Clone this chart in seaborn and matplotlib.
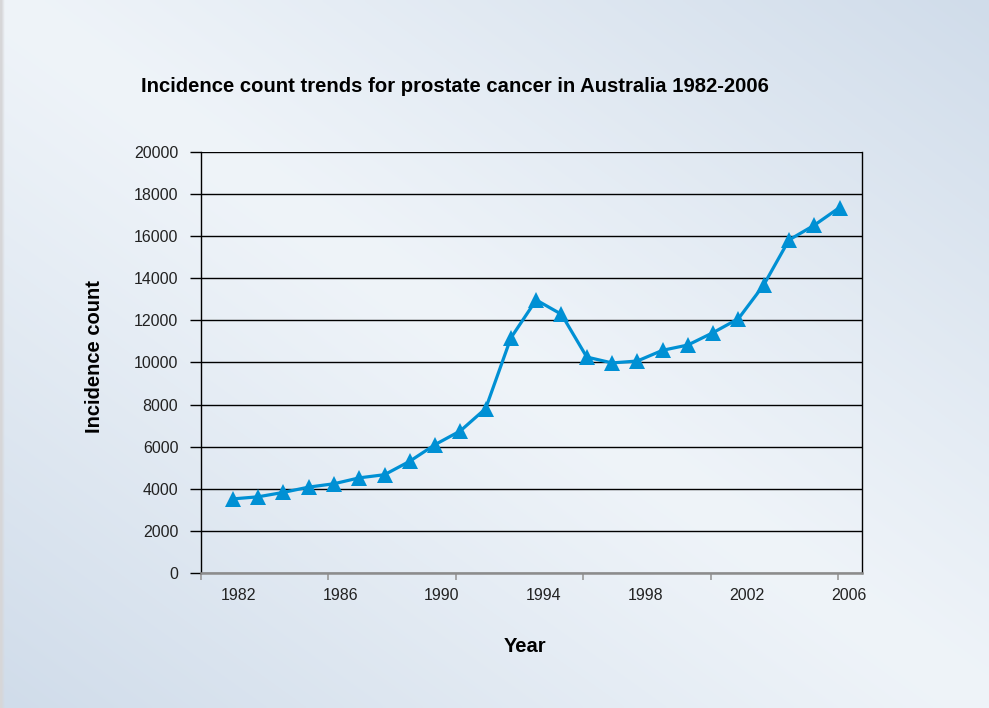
import numpy as np
import pandas as pd
import matplotlib
matplotlib.use("Agg")
import matplotlib.pyplot as plt
import seaborn as sns

years = list(range(1982, 2007))
incidence = [3520, 3620, 3830, 4080, 4240, 4520, 4670, 5310, 6100, 6750,
             7810, 11170, 12970, 12290, 10260, 9980, 10070, 10580, 10830, 11420,
             12080, 13680, 15820, 16520, 17360]
label_years = [1982, 1986, 1990, 1994, 1998, 2002, 2006]
y_ticks = list(range(0, 20001, 2000))

title = "Incidence count trends for prostate cancer in Australia 1982-2006"
x_title = "Year"
y_title = "Incidence count"

df = pd.DataFrame({"Year": years, "Incidence": incidence})

sns.set_theme(style="white")
plt.rcParams["font.family"] = ["Liberation Sans", "DejaVu Sans"]

W, H = 989, 708
fig = plt.figure(figsize=(W / 100, H / 100), dpi=100)

# background gradient
bg = fig.add_axes([0, 0, 1, 1], zorder=-10)
gx, gy = np.meshgrid(np.linspace(0, 1, 300), np.linspace(0, 1, 220))
d = np.abs(gx - gy)
light = np.array([0xEF, 0xF4, 0xF9]) / 255
blue = np.array([0xD0, 0xDC, 0xEA]) / 255
img = light[None, None, :] + d[..., None] ** 1.1 * (blue - light)[None, None, :]
img[:, :1, :] = np.array([0.84, 0.84, 0.85])
bg.imshow(img, aspect="auto", extent=[0, 1, 0, 1], origin="upper", interpolation="bilinear")
bg.set_xlim(0, 1)
bg.set_ylim(0, 1)
bg.axis("off")

ax = fig.add_axes([200.5 / W, 1 - 573 / H, (861.5 - 200.5) / W, (573 - 152) / H])
ax.set_facecolor("none")

sns.lineplot(data=df, x="Year", y="Incidence", ax=ax, color="#0090D4",
             linewidth=2.3, marker="^", markersize=11.5, markeredgewidth=0,
             zorder=5)

ax.set_xlim(1980.79, 2006.87)
ax.set_ylim(0, 20000)

ax.set_yticks(y_ticks)
ax.set_yticklabels([str(v) for v in y_ticks])
ax.yaxis.grid(True, color="black", linewidth=1.0)
ax.xaxis.grid(False)
ax.tick_params(axis="y", which="major", length=8, width=1.0, color="black",
               pad=8, labelsize=11.5, labelcolor="#222222", left=True)

# x labels (major, no tick) and tick marks (minor)
label_pos = [1982.22 + (y - 1982) * 1.0067 for y in label_years]
ax.set_xticks(label_pos)
ax.set_xticklabels([str(y) for y in label_years])
ax.set_xticks([1980.72 + 5.045 * k for k in range(6)], minor=True)
ax.tick_params(axis="x", which="major", length=0, pad=11, labelsize=11.5,
               labelcolor="#222222", bottom=True)
ax.tick_params(axis="x", which="minor", length=5, width=1.2, color="#999999",
               bottom=True)

ax.spines["top"].set_visible(False)
ax.spines["left"].set_color("black")
ax.spines["left"].set_linewidth(1.0)
ax.spines["right"].set_visible(True)
ax.spines["right"].set_color("black")
ax.spines["right"].set_linewidth(1.0)
ax.spines["bottom"].set_color("#8c8c8c")
ax.spines["bottom"].set_linewidth(1.8)
ax.spines["bottom"].set_zorder(3)

ax.set_xlabel("")
ax.set_ylabel("")

fig.text(455 / W, 1 - 86 / H, title, ha="center", va="center",
         fontsize=14.6, fontweight="bold", color="black")
fig.text(95 / W, 1 - 357 / H, y_title, ha="center", va="center", rotation=90,
         fontsize=14.5, fontweight="bold", color="black")
fig.text(525 / W, 1 - 646 / H, x_title, ha="center", va="center",
         fontsize=14.5, fontweight="bold", color="black")

fig.savefig("out.png", dpi=100)
